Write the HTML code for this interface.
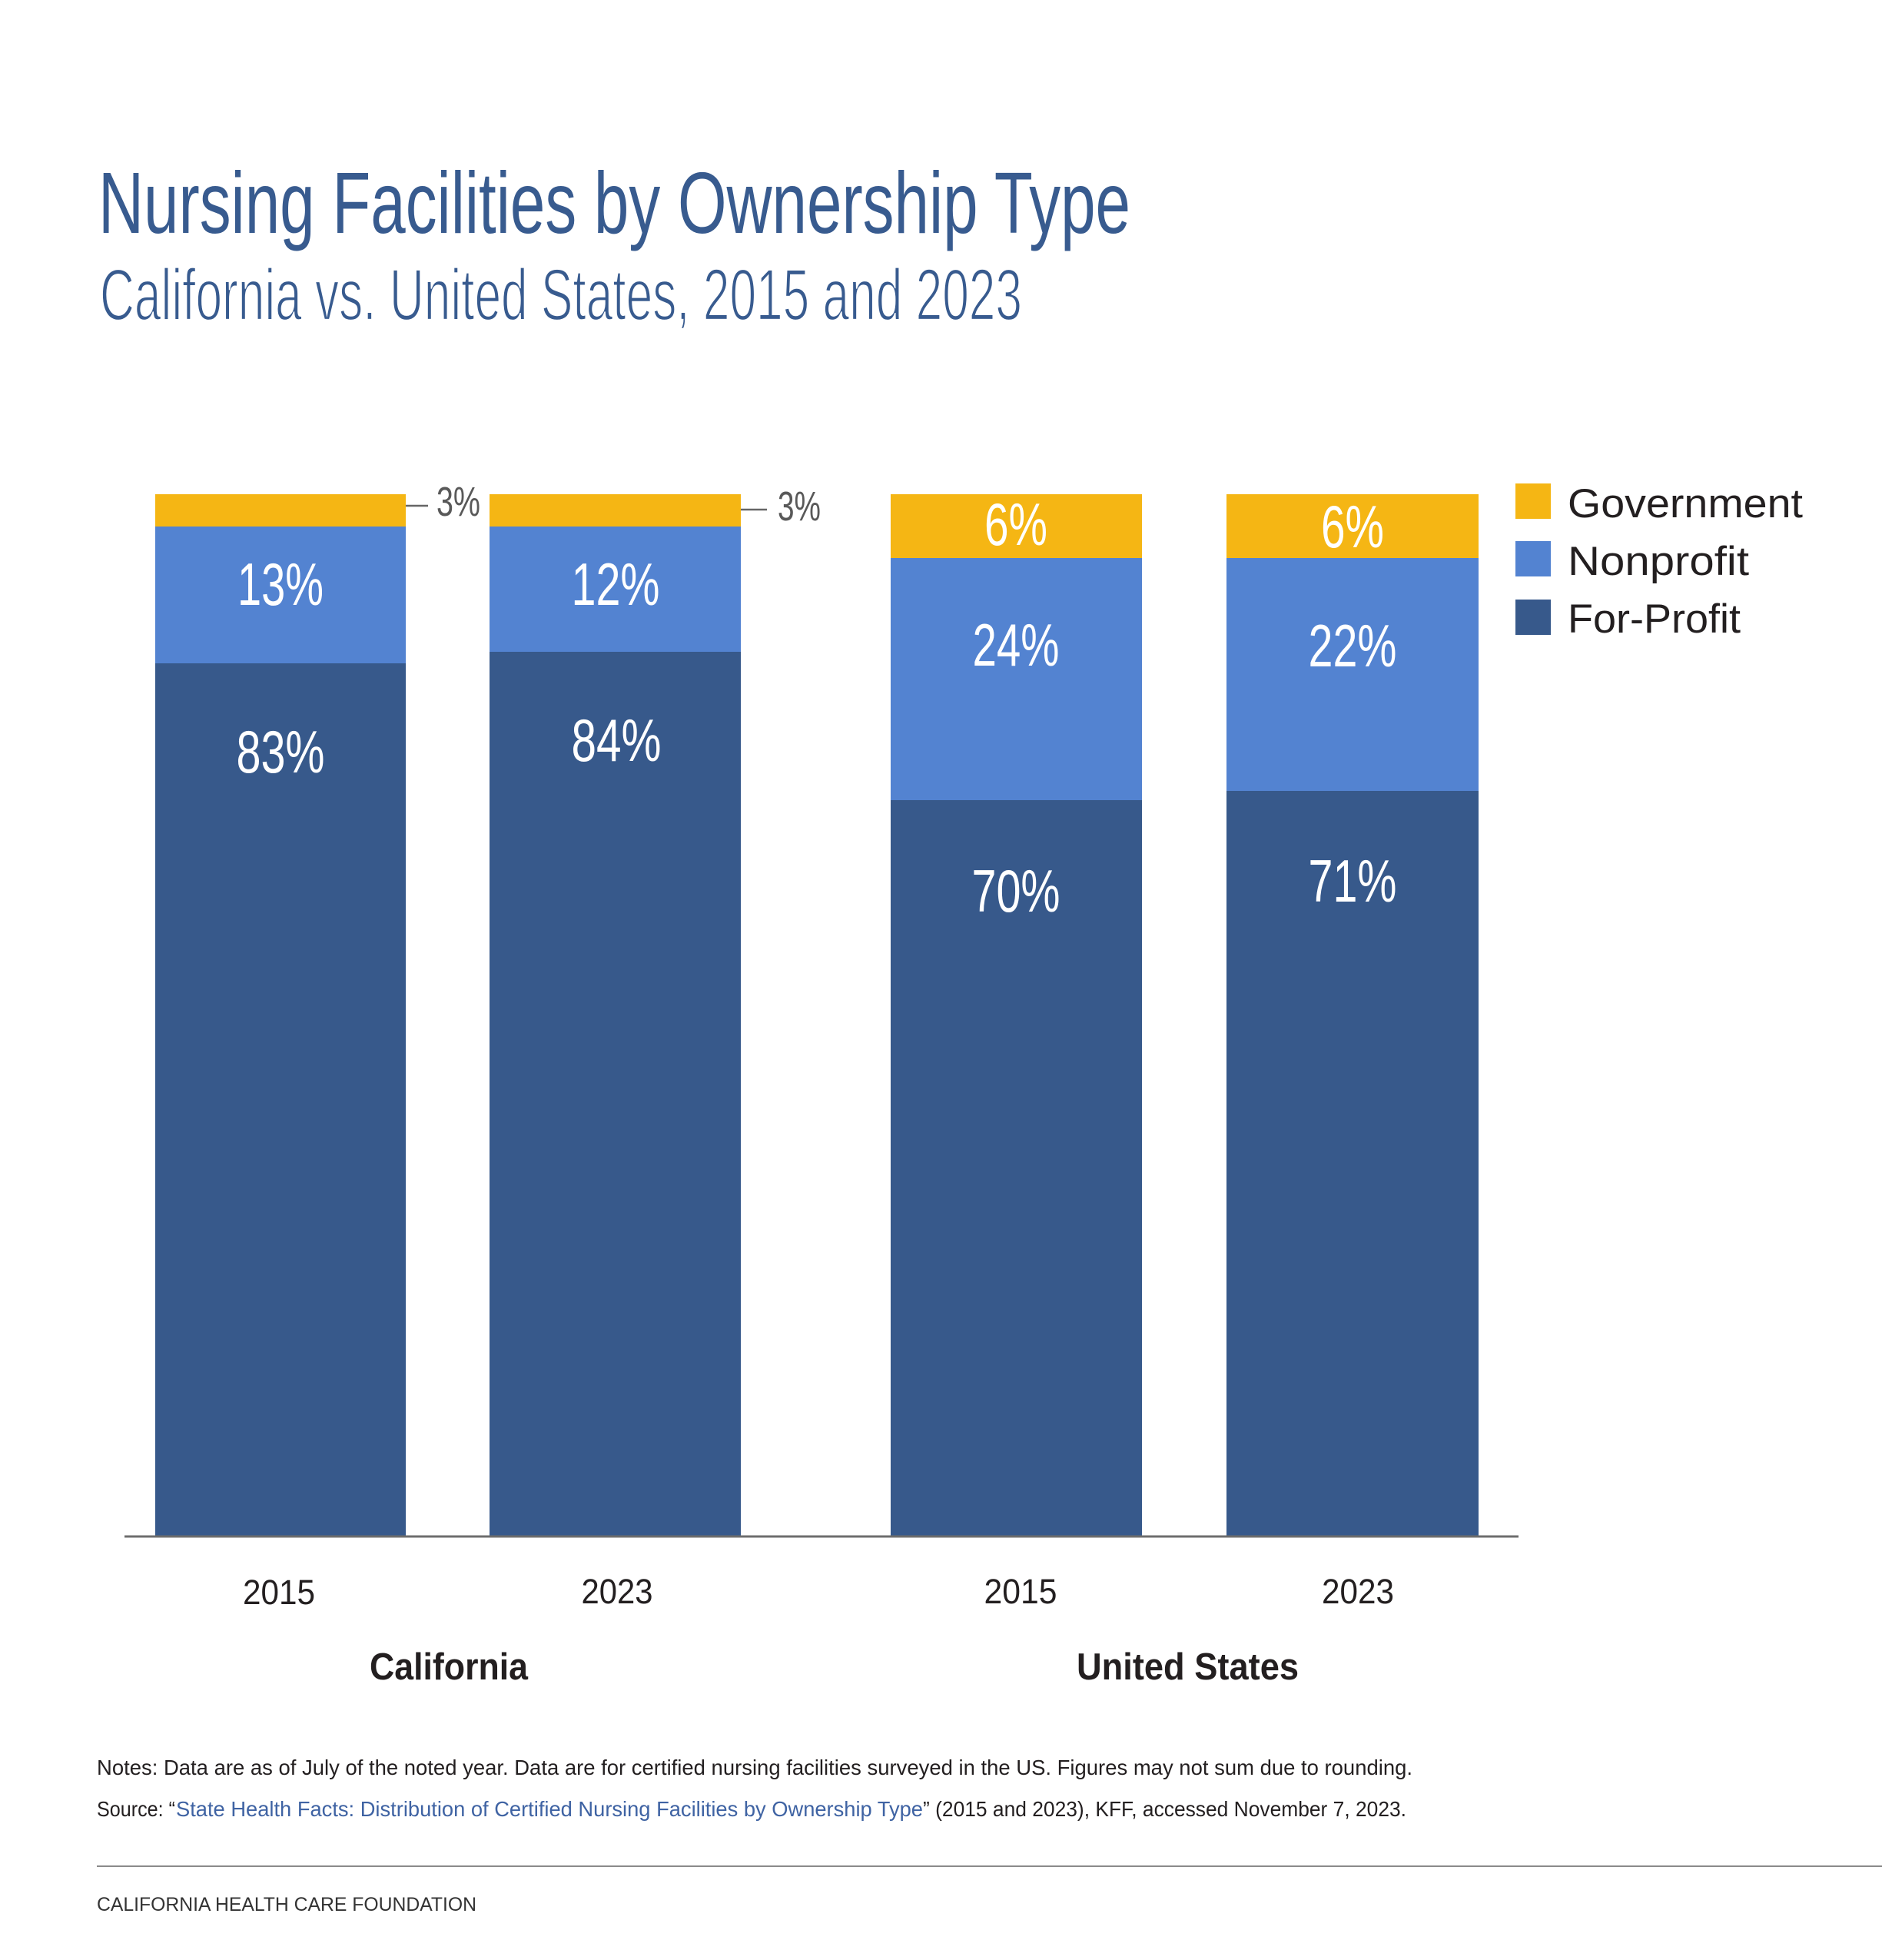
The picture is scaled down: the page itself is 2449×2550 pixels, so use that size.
<!DOCTYPE html>
<html><head><meta charset="utf-8"><style>
html,body{margin:0;padding:0;background:#fff;}
svg{display:block;}
.c{font-family:"Liberation Sans Narrow","Liberation Sans",sans-serif;}
.n{font-family:"Liberation Sans",sans-serif;}
</style></head><body>
<svg width="2449" height="2550" viewBox="0 0 2449 2550" xmlns="http://www.w3.org/2000/svg">
<rect width="2449" height="2550" fill="#fff"/>
<!-- Title -->
<text class="c" x="128" y="303" font-size="113" fill="#385b8f" textLength="1343" lengthAdjust="spacingAndGlyphs">Nursing Facilities by Ownership Type</text>
<text class="c" x="130" y="416" font-size="95" fill="#385b8f" stroke="#fff" stroke-width="2.2" textLength="1200" lengthAdjust="spacingAndGlyphs">California vs. United States, 2015 and 2023</text>

<!-- Bars -->
<g>
<rect x="202" y="643" width="326" height="42" fill="#f5b614"/>
<rect x="202" y="685" width="326" height="178" fill="#5383d1"/>
<rect x="202" y="863" width="326" height="1135" fill="#37598b"/>

<rect x="637" y="643" width="327" height="42" fill="#f5b614"/>
<rect x="637" y="685" width="327" height="163" fill="#5383d1"/>
<rect x="637" y="848" width="327" height="1150" fill="#37598b"/>

<rect x="1159" y="643" width="327" height="83" fill="#f5b614"/>
<rect x="1159" y="726" width="327" height="315" fill="#5383d1"/>
<rect x="1159" y="1041" width="327" height="957" fill="#37598b"/>

<rect x="1596" y="643" width="328" height="83" fill="#f5b614"/>
<rect x="1596" y="726" width="328" height="303" fill="#5383d1"/>
<rect x="1596" y="1029" width="328" height="969" fill="#37598b"/>
</g>

<!-- Axis -->
<line x1="162" y1="1999" x2="1976" y2="1999" stroke="#6d6d6d" stroke-width="3"/>

<!-- Bar labels -->
<g class="c" font-size="78" fill="#ffffff" text-anchor="middle">
<text x="365" y="787" textLength="112" lengthAdjust="spacingAndGlyphs">13%</text>
<text x="365" y="1005" textLength="115" lengthAdjust="spacingAndGlyphs">83%</text>
<text x="801" y="787" textLength="115" lengthAdjust="spacingAndGlyphs">12%</text>
<text x="802" y="990" textLength="117" lengthAdjust="spacingAndGlyphs">84%</text>
<text x="1322" y="709" textLength="82" lengthAdjust="spacingAndGlyphs">6%</text>
<text x="1322" y="866" textLength="113" lengthAdjust="spacingAndGlyphs">24%</text>
<text x="1322" y="1186" textLength="115" lengthAdjust="spacingAndGlyphs">70%</text>
<text x="1760" y="712" textLength="82" lengthAdjust="spacingAndGlyphs">6%</text>
<text x="1760" y="867" textLength="115" lengthAdjust="spacingAndGlyphs">22%</text>
<text x="1760" y="1173" textLength="115" lengthAdjust="spacingAndGlyphs">71%</text>
</g>

<!-- Outside 3% labels -->
<line x1="528" y1="658" x2="557" y2="658" stroke="#666" stroke-width="2.5"/>
<text class="c" x="568" y="671" font-size="54" fill="#595959" textLength="57" lengthAdjust="spacingAndGlyphs">3%</text>
<line x1="964" y1="663" x2="998" y2="663" stroke="#666" stroke-width="2.5"/>
<text class="c" x="1012" y="677" font-size="54" fill="#595959" textLength="56" lengthAdjust="spacingAndGlyphs">3%</text>

<!-- Legend -->
<rect x="1972" y="629" width="46" height="46" fill="#f5b614"/>
<rect x="1972" y="704" width="46" height="46" fill="#5383d1"/>
<rect x="1972" y="780" width="46" height="46" fill="#37598b"/>
<g class="n" font-size="53" fill="#231f20">
<text x="2040" y="673" textLength="306" lengthAdjust="spacingAndGlyphs">Government</text>
<text x="2040" y="748" textLength="236" lengthAdjust="spacingAndGlyphs">Nonprofit</text>
<text x="2040" y="823" textLength="225" lengthAdjust="spacingAndGlyphs">For-Profit</text>
</g>

<!-- Year labels -->
<g class="n" font-size="45" fill="#231f20" text-anchor="middle">
<text x="363" y="2087" textLength="94" lengthAdjust="spacingAndGlyphs">2015</text>
<text x="803" y="2086" textLength="93" lengthAdjust="spacingAndGlyphs">2023</text>
<text x="1328" y="2086" textLength="95" lengthAdjust="spacingAndGlyphs">2015</text>
<text x="1767" y="2086" textLength="94" lengthAdjust="spacingAndGlyphs">2023</text>
</g>
<g class="n" font-size="49" font-weight="bold" fill="#231f20">
<text x="481" y="2185" textLength="206" lengthAdjust="spacingAndGlyphs">California</text>
<text x="1401" y="2185" textLength="289" lengthAdjust="spacingAndGlyphs">United States</text>
</g>

<!-- Notes -->
<g class="n" font-size="28" fill="#231f20">
<text x="126" y="2309" textLength="1712" lengthAdjust="spacingAndGlyphs">Notes: Data are as of July of the noted year. Data are for certified nursing facilities surveyed in the US. Figures may not sum due to rounding.</text>
<text x="126" y="2363" textLength="102" lengthAdjust="spacingAndGlyphs">Source: “</text>
<text x="229" y="2363" fill="#3f63a3" textLength="972" lengthAdjust="spacingAndGlyphs">State Health Facts: Distribution of Certified Nursing Facilities by Ownership Type</text>
<text x="1201" y="2363" textLength="629" lengthAdjust="spacingAndGlyphs">” (2015 and 2023), KFF, accessed November 7, 2023.</text>
</g>

<line x1="126" y1="2428" x2="2449" y2="2428" stroke="#8a8a8a" stroke-width="2"/>
<text class="n" x="126" y="2486" font-size="25" fill="#333" textLength="494" lengthAdjust="spacingAndGlyphs">CALIFORNIA HEALTH CARE FOUNDATION</text>
</svg>
</body></html>
